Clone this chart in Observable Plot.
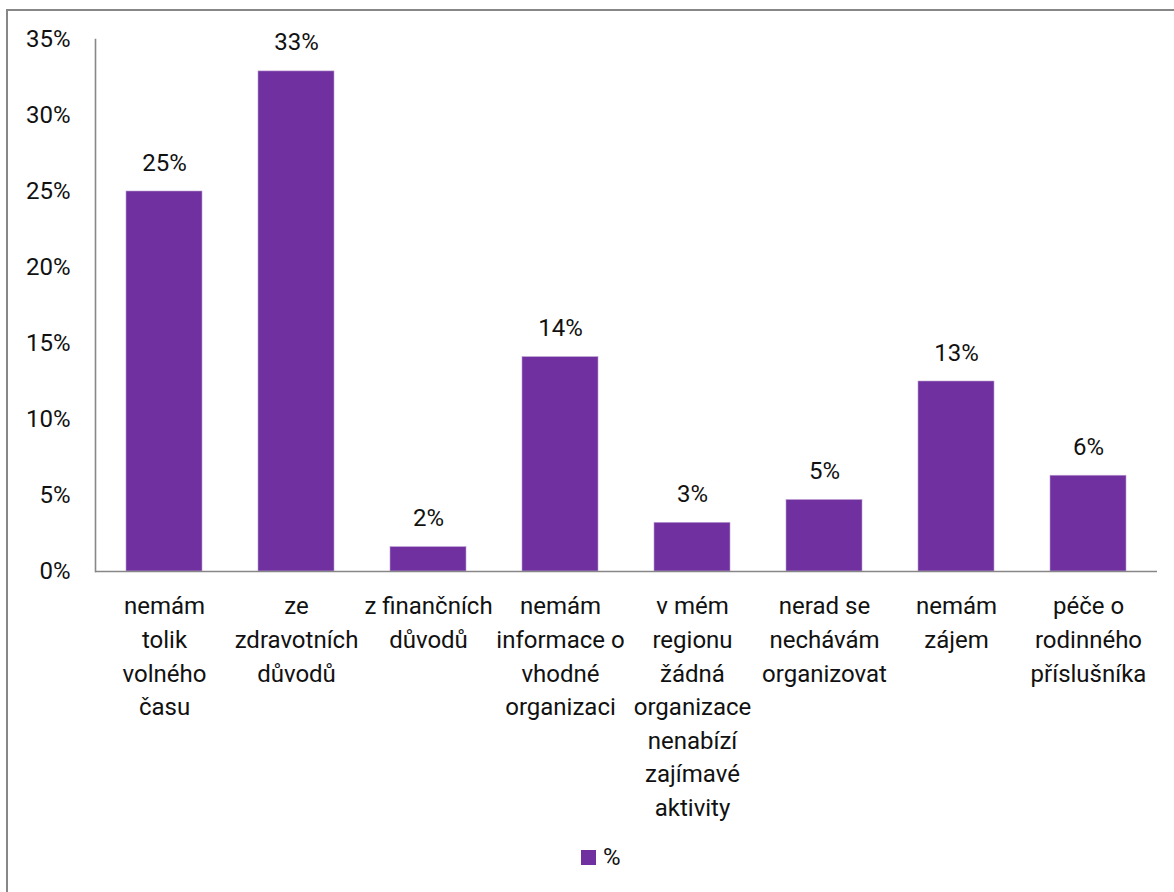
<!DOCTYPE html>
<html>
<head>
<meta charset="utf-8">
<script src="https://cdn.jsdelivr.net/npm/d3@7"></script>
<script src="https://cdn.jsdelivr.net/npm/@observablehq/plot@0.6"></script>
<style>
  html, body { margin: 0; padding: 0; background: #fff; }
  #wrap { position: relative; width: 1174px; height: 892px; overflow: hidden; font-family: Roboto, sans-serif; }
  #frame { position: absolute; left: 6px; top: 9px; width: 1300px; height: 1000px; border-top: 2px solid #878787; border-left: 2px solid #878787; }
  #chart { position: absolute; left: 0; top: 0; }
  #legend { position: absolute; left: 581px; top: 843px; display: flex; align-items: center; font-size: 24px; color: #111; }
  #legend .sw { width: 15px; height: 15px; background: #7030a0; margin-right: 7px; }
</style>
</head>
<body>
<div id="wrap">
  <div id="frame"></div>
  <div id="chart"></div>
  <div id="legend"><span class="sw"></span><span>%</span></div>
</div>
<script>
const categories = [
  "nemám\ntolik\nvolného\nčasu",
  "ze\nzdravotních\ndůvodů",
  "z finančních\ndůvodů",
  "nemám\ninformace o\nvhodné\norganizaci",
  "v mém\nregionu\nžádná\norganizace\nnenabízí\nzajímavé\naktivity",
  "nerad se\nnechávám\norganizovat",
  "nemám\nzájem",
  "péče o\nrodinného\npříslušníka"
];
const values = [25.0, 32.9, 1.6, 14.1, 3.2, 4.7, 12.5, 6.3];
const yTicks = [0, 5, 10, 15, 20, 25, 30, 35];
const seriesName = "%";

const data = categories.map((c, i) => ({category: c, value: values[i]}));

const chart = Plot.plot({
  width: 1174,
  height: 835,
  marginTop: 39,
  marginBottom: 264,
  marginLeft: 95,
  marginRight: 17,
  style: {fontFamily: "Roboto, sans-serif", fontSize: "24px", color: "#111", background: "transparent"},
  x: {domain: categories, paddingInner: 0.424, paddingOuter: 0.212, label: null},
  y: {domain: [0, 35], label: null},
  marks: [
    Plot.barY(data, {x: "category", y: "value", fill: "#7030a0", stroke: "#b99bd0", strokeWidth: 0.6}),
    Plot.text(data, {x: "category", y: "value", text: d => Math.round(d.value) + "%", dy: -21, lineAnchor: "bottom", fontSize: 24, fill: "#111"}),
    Plot.axisY({ticks: yTicks, tickFormat: d => d + "%", tickSize: 0, tickPadding: 25, label: null, fontSize: 24}),
    Plot.axisX({tickSize: 0, tickPadding: 19, label: null, lineHeight: 1.4, fontSize: 24, textOverflow: null}),
    Plot.frame({anchor: "left", stroke: "#878787", strokeWidth: 1.6}),
    Plot.ruleY([0], {stroke: "#878787", strokeWidth: 1.6})
  ]
});
document.getElementById("chart").appendChild(chart);
</script>
</body>
</html>
